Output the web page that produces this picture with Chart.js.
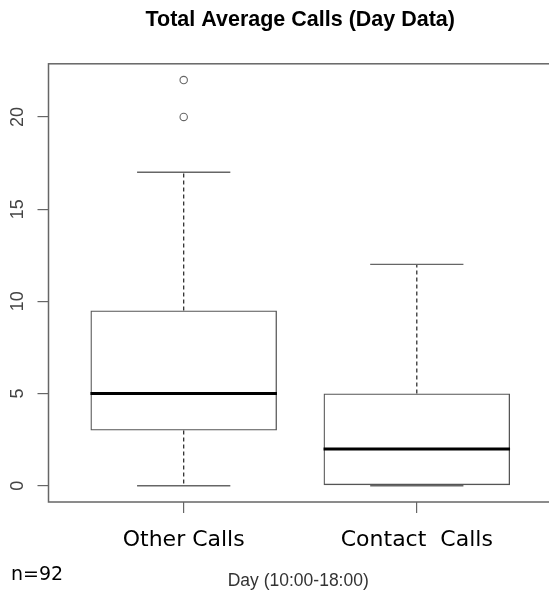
<!DOCTYPE html>
<html>
<head>
<meta charset="utf-8">
<script src="https://cdn.jsdelivr.net/npm/chart.js@4.4.1/dist/chart.umd.min.js"></script>
<style>
html,body{margin:0;padding:0;background:#fff;overflow:hidden;width:549px;height:592px}
#wrap{position:absolute;left:0;top:0;width:552px;height:592px}
</style>
</head>
<body>
<div id="wrap"><canvas id="c"></canvas></div>
<script>
// ---- data ----
const categories = ['Other Calls', 'Contact  Calls'];
const lowerWhisker = [0, 0];
const q1 = [3, 0];
const median = [5, 2];
const q3 = [9.5, 5];
const upperWhisker = [17, 12];
const outliers = [[20, 22], []];
const yTicks = [0, 5, 10, 15, 20];
const sampleNote = 'n=92';
const xTitle = 'Day (10:00-18:00)';
const chartTitle = 'Total Average Calls (Day Data)';

// ---- datasets built from data ----
const boxData = categories.map((c, i) => ({ x: i + 1, y: [q1[i], q3[i]] }));
const outlierData = [];
outliers.forEach((arr, i) => arr.forEach(v => outlierData.push({ x: i + 1, y: v })));

function seg(ctx, x1, y1, x2, y2) {
  ctx.beginPath(); ctx.moveTo(x1, y1); ctx.lineTo(x2, y2); ctx.stroke();
}

const boxExtras = {
  id: 'boxExtras',
  afterDatasetsDraw(chart) {
    const { ctx, scales: { x, y }, chartArea } = chart;
    ctx.save();
    categories.forEach((c, i) => {
      const px = x.getPixelForValue(i + 1);
      // dashed whiskers
      ctx.strokeStyle = '#222'; ctx.lineWidth = 1.2; ctx.setLineDash([4, 3]);
      seg(ctx, px, y.getPixelForValue(q3[i]), px, y.getPixelForValue(upperWhisker[i]));
      if (q1[i] > lowerWhisker[i]) seg(ctx, px, y.getPixelForValue(q1[i]), px, y.getPixelForValue(lowerWhisker[i]));
      ctx.setLineDash([]);
      // staples
      ctx.strokeStyle = '#666'; ctx.lineWidth = 1.3;
      const sl = x.getPixelForValue(i + 1 - 0.2), sr = x.getPixelForValue(i + 1 + 0.2);
      seg(ctx, sl, y.getPixelForValue(upperWhisker[i]), sr, y.getPixelForValue(upperWhisker[i]));
      seg(ctx, sl, y.getPixelForValue(lowerWhisker[i]), sr, y.getPixelForValue(lowerWhisker[i]));
      // median
      ctx.strokeStyle = '#000'; ctx.lineWidth = 3;
      const bl = x.getPixelForValue(i + 1 - 0.4), br = x.getPixelForValue(i + 1 + 0.4);
      seg(ctx, bl, y.getPixelForValue(median[i]), br, y.getPixelForValue(median[i]));
    });
    // plot frame
    ctx.strokeStyle = '#666'; ctx.lineWidth = 1.5;
    ctx.strokeRect(chartArea.left, chartArea.top, chartArea.right - chartArea.left, chartArea.bottom - chartArea.top);
    ctx.restore();
  },
  afterDraw(chart) {
    const { ctx, chartArea } = chart;
    ctx.save();
    ctx.fillStyle = '#000';
    ctx.font = '19px "DejaVu Sans"';
    ctx.textAlign = 'left'; ctx.textBaseline = 'alphabetic';
    ctx.fillText(sampleNote, 11, 580);
    ctx.fillStyle = '#333';
    ctx.font = '17.5px "Liberation Sans", Arial';
    ctx.textAlign = 'center';
    ctx.fillText(xTitle, (chartArea.left + chartArea.right) / 2 - 2, 586);
    ctx.restore();
  }
};

new Chart(document.getElementById('c'), {
  type: 'bar',
  data: {
    datasets: [
      {
        type: 'bar',
        data: boxData,
        backgroundColor: 'rgba(255,255,255,0)',
        borderColor: '#555',
        borderWidth: 1.3,
        borderSkipped: false,
        barPercentage: 1,
        categoryPercentage: 0.8,
        grouped: false
      },
      {
        type: 'scatter',
        data: outlierData,
        pointStyle: 'circle',
        pointRadius: 3.7,
        borderColor: '#666',
        borderWidth: 1.1,
        backgroundColor: 'rgba(255,255,255,0)'
      }
    ]
  },
  options: {
    responsive: true,
    maintainAspectRatio: false,
    animation: false,
    events: [],
    layout: { padding: 0, autoPadding: false },
    plugins: {
      legend: { display: false },
      tooltip: { enabled: false },
      title: {
        display: true,
        text: chartTitle,
        fullSize: false,
        color: '#000',
        font: { family: '"Liberation Sans", Arial', size: 21.5, weight: 'bold' },
        padding: { top: 7, bottom: 31 }
      }
    },
    scales: {
      x: {
        type: 'linear',
        min: 0.42,
        max: 2.58,
        offset: false,
        afterBuildTicks: s => { s.ticks = categories.map((c, i) => ({ value: i + 1 })); },
        afterFit: s => { s.height = 90; },
        ticks: {
          callback: (v, idx) => categories[idx],
          font: { family: '"DejaVu Sans"', size: 22 },
          color: '#000',
          padding: 14,
          maxRotation: 0,
          minRotation: 0,
          autoSkip: false
        },
        grid: { display: true, offset: false, drawOnChartArea: false, drawTicks: true, tickLength: 11, color: '#666', lineWidth: 1.2 },
        border: { display: false }
      },
      y: {
        type: 'linear',
        min: -0.88,
        max: 22.88,
        afterBuildTicks: s => { s.ticks = yTicks.map(v => ({ value: v })); },
        afterFit: s => { s.width = 48.5; },
        ticks: {
          font: { family: '"Liberation Sans", Arial', size: 18 },
          color: '#444',
          minRotation: 90,
          maxRotation: 90,
          crossAlign: 'center',
          padding: 9
        },
        grid: { display: true, drawOnChartArea: false, drawTicks: true, tickLength: 11, color: '#666', lineWidth: 1.2 },
        border: { display: false }
      }
    }
  },
  plugins: [boxExtras]
});
</script>
</body>
</html>
